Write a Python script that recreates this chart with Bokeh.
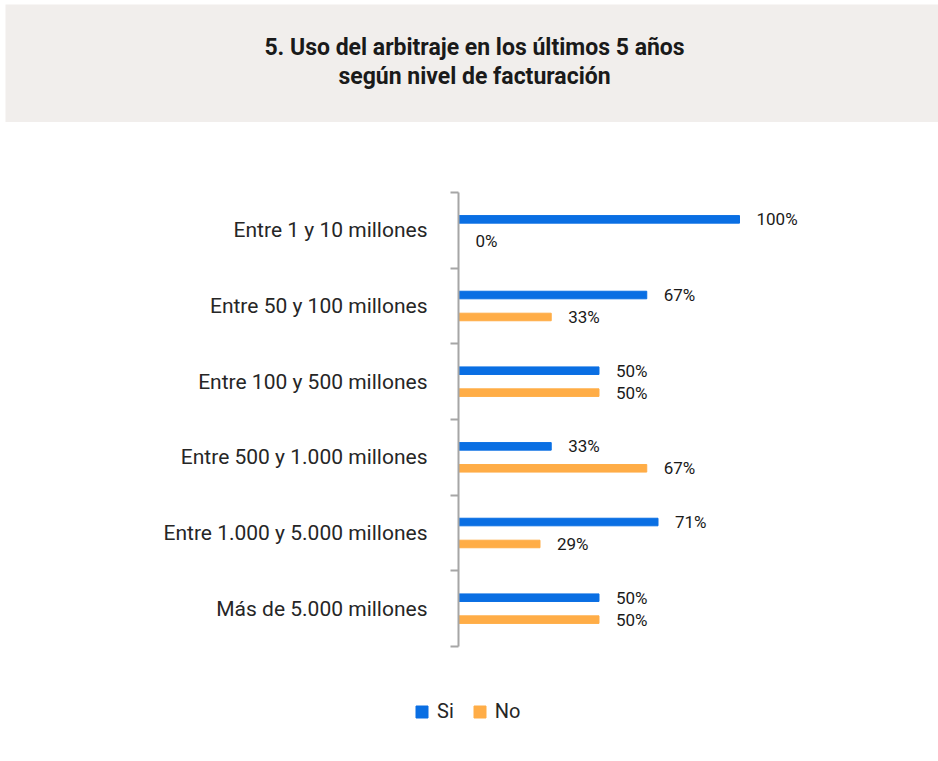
from bokeh.plotting import figure
from bokeh.models import (ColumnDataSource, Range1d, LinearAxis, FixedTicker, Legend, LegendItem)
from bokeh.transform import dodge
from bokeh.core.properties import value
from bokeh.embed import file_html
from bokeh.resources import INLINE

title_lines = ["5. Uso del arbitraje en los últimos 5 años", "según nivel de facturación"]
categories = ["Entre 1 y 10 millones", "Entre 50 y 100 millones", "Entre 100 y 500 millones",
              "Entre 500 y 1.000 millones", "Entre 1.000 y 5.000 millones", "Más de 5.000 millones"]
si_values = [100, 67, 50, 33, 71, 50]
no_values = [0, 33, 50, 67, 29, 50]
series_names = ["Si", "No"]
colors = ["#0A6FE3", "#FFAD47"]

FONT = "Roboto"
n = len(categories)


def bare(fig):
    fig.outline_line_color = None
    fig.grid.visible = False
    fig.xaxis.visible = False
    fig.yaxis.visible = False


# ---- header (separate root so its frame is not aligned with the chart's)
header = figure(width=938, height=122, x_range=(0, 1), y_range=(0, 118), toolbar_location=None,
                output_backend="svg", min_border_top=4, min_border_left=5,
                min_border_right=0, min_border_bottom=0)
bare(header)
header.background_fill_color = "#F1EEEC"
header.border_fill_color = "white"
hsrc = ColumnDataSource(dict(x=[0.5027, 0.5027], y=[75, 46], t=title_lines))
header.text(x="x", y="y", text="t", source=hsrc, text_align="center", text_baseline="middle",
            text_font=value(FONT), text_font_style="bold", text_font_size="23px", text_color="#1a1a1a")

# ---- main chart (category i, listed top-first, sits in band [n-i-1, n-i])
centers = [n - i - 0.5 for i in range(n)]
bounds = list(range(n + 1))
src = ColumnDataSource(dict(pos=centers, si=si_values, no=no_values,
                            si_lab=[f"{v}%" for v in si_values], no_lab=[f"{v}%" for v in no_values]))

p = figure(width=936, height=568, y_range=Range1d(0, n), x_range=Range1d(0, 157.3),
           toolbar_location=None, output_backend="svg",
           y_axis_location=None, x_axis_location=None,
           min_border_top=70, min_border_bottom=44, min_border_left=458, min_border_right=36)
p.outline_line_color = None
p.grid.visible = False
p.background_fill_color = "white"
p.border_fill_color = "white"

# axis line with ticks at the category boundaries (no labels)
tick_axis = LinearAxis(ticker=FixedTicker(ticks=bounds),
                       major_label_overrides={b: "" for b in bounds},
                       major_label_text_font_size="1px", major_label_standoff=0,
                       axis_line_color="#A6A6A6", axis_line_width=2,
                       major_tick_line_color="#A6A6A6", major_tick_line_width=2,
                       major_tick_out=8, major_tick_in=0, minor_tick_line_color=None)
p.add_layout(tick_axis, "left")

# category names at the band centres
cat_axis = LinearAxis(ticker=FixedTicker(ticks=centers),
                      major_label_overrides={c: name for c, name in zip(centers, categories)},
                      axis_line_color=None, major_tick_line_color=None, minor_tick_line_color=None,
                      major_label_text_font=FONT, major_label_text_font_size="21px",
                      major_label_text_color="#262626", major_label_standoff=17)
p.add_layout(cat_axis, "left")

off = 0.145
p.hbar(y=dodge("pos", off), right="si", left=0, height=0.1, color=colors[0], source=src)
p.hbar(y=dodge("pos", -off), right="no", left=0, height=0.1, color=colors[1], source=src)

p.text(x="si", y=dodge("pos", off), text="si_lab", source=src, x_offset=17,
       text_align="left", text_baseline="middle", text_font=value(FONT), text_font_size="17px",
       text_color="#1a1a1a")
p.text(x="no", y=dodge("pos", -off), text="no_lab", source=src, x_offset=17,
       text_align="left", text_baseline="middle", text_font=value(FONT), text_font_size="17px",
       text_color="#1a1a1a")

# ---- legend strip (own root, frame spans the full width); its bar renderers
# use the same data but lie outside this strip's view, only the legend shows
lf = figure(width=936, height=68, x_range=(0, 1), y_range=(100, 101), toolbar_location=None,
            output_backend="svg", min_border=0)
bare(lf)
lf.border_fill_color = "white"
l_si = lf.hbar(y="pos", right="si", left=0, height=0.1, color=colors[0], source=src)
l_no = lf.hbar(y="pos", right="no", left=0, height=0.1, color=colors[1], source=src)
legend = Legend(items=[LegendItem(label=series_names[0], renderers=[l_si]),
                       LegendItem(label=series_names[1], renderers=[l_no])],
                orientation="horizontal", location=(414, 35), padding=0, margin=0,
                glyph_width=15, glyph_height=15, label_standoff=8, spacing=18, label_width=10,
                label_text_font=FONT, label_text_font_size="20px", label_text_color="#262626",
                border_line_color=None, background_fill_alpha=0)
lf.add_layout(legend, "center")

open("out.html", "w").write(file_html([header, p, lf], INLINE))
